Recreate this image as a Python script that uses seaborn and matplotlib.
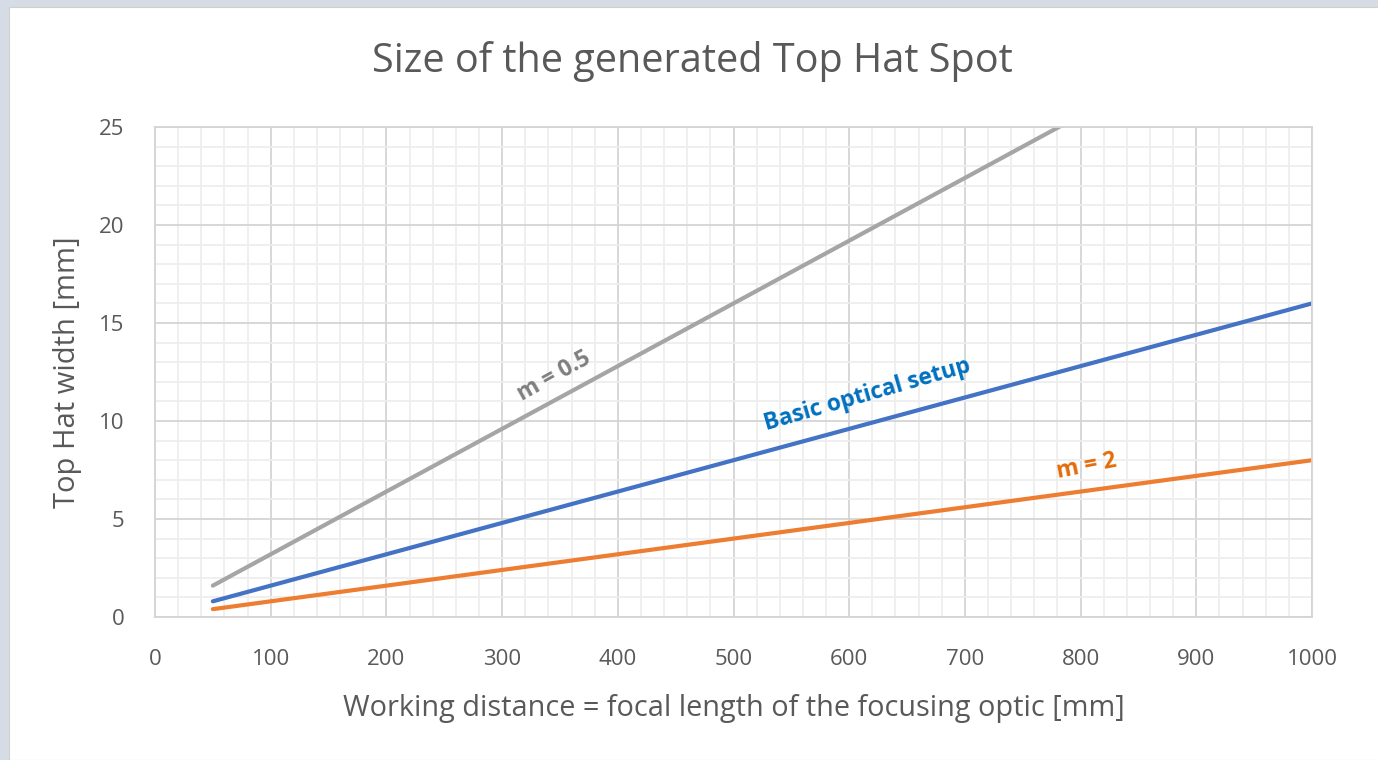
import numpy as np
import pandas as pd
import matplotlib
matplotlib.use("Agg")
import matplotlib.pyplot as plt
from matplotlib.patches import Rectangle
from matplotlib.ticker import MultipleLocator
import seaborn as sns

# Data (straight lines, end points)
distance_mm = [50, 1000]
width_m05 = [1.6, 32.0]     # m = 0.5 (clipped at 25 by the axis)
width_basic = [0.8, 16.0]   # basic optical setup
width_m2 = [0.4, 8.0]       # m = 2

series_names = ["m = 0.5", "Basic optical setup", "m = 2"]
line_colors = ["#a5a5a5", "#4472c4", "#ed7d31"]
label_colors = ["#7f7f7f", "#0070c0", "#e46c0a"]

df = pd.DataFrame({
    "distance": distance_mm * 3,
    "width": width_m05 + width_basic + width_m2,
    "series": [s for s in series_names for _ in distance_mm],
})

sns.set_theme(style="white")
plt.rcParams["font.family"] = ["Open Sans", "DejaVu Sans"]

fig = plt.figure(figsize=(13.78, 7.60), dpi=100)
fig.patch.set_facecolor("#d6dce5")
fig.patches.append(Rectangle((9 / 1378, 0), 1, 1 - 7 / 760, transform=fig.transFigure,
                             facecolor="white", edgecolor="#d0d0d0", lw=0.8, zorder=-5))

ax = fig.add_axes([155 / 1378, 1 - 617 / 760, 1157 / 1378, 490 / 760])
ax.set_zorder(2)
sns.lineplot(data=df, x="distance", y="width", hue="series", palette=line_colors,
             hue_order=series_names, linewidth=3, legend=False, ax=ax)

ax.set_xlim(0, 1000)
ax.set_ylim(0, 25)
ax.xaxis.set_major_locator(MultipleLocator(100))
ax.xaxis.set_minor_locator(MultipleLocator(20))
ax.yaxis.set_major_locator(MultipleLocator(5))
ax.yaxis.set_minor_locator(MultipleLocator(1))
ax.grid(which="major", color="#d4d4d4", linewidth=1.3)
ax.grid(which="minor", color="#eeeeee", linewidth=1.3)
ax.set_axisbelow(True)
for sp in ax.spines.values():
    sp.set_color("#d4d4d4")
    sp.set_linewidth(1.3)
ax.tick_params(which="both", length=0, labelsize=16, labelcolor="#595959")
ax.tick_params(axis="x", pad=23)
ax.tick_params(axis="y", pad=22)

ax.set_xlabel("Working distance = focal length of the focusing optic [mm]",
              fontsize=20.8, color="#595959", labelpad=17)
ax.set_ylabel("Top Hat width [mm]", fontsize=21, color="#595959", labelpad=12)
fig.text(692 / 1378, 1 - 62 / 760, "Size of the generated Top Hat Spot", ha="center",
         va="center", fontsize=28.5, color="#595959")

# line labels
label_pos = [(345, 12.3, 29), (616, 11.3, 16), (805, 7.7, 11)]
for name, col, (lx, ly, rot) in zip(series_names, label_colors, label_pos):
    ax.text(lx, ly, name, color=col, fontsize=16.5, fontweight="bold",
            rotation=rot, ha="center", va="center", rotation_mode="anchor")

fig.savefig("out.png", dpi=100)
